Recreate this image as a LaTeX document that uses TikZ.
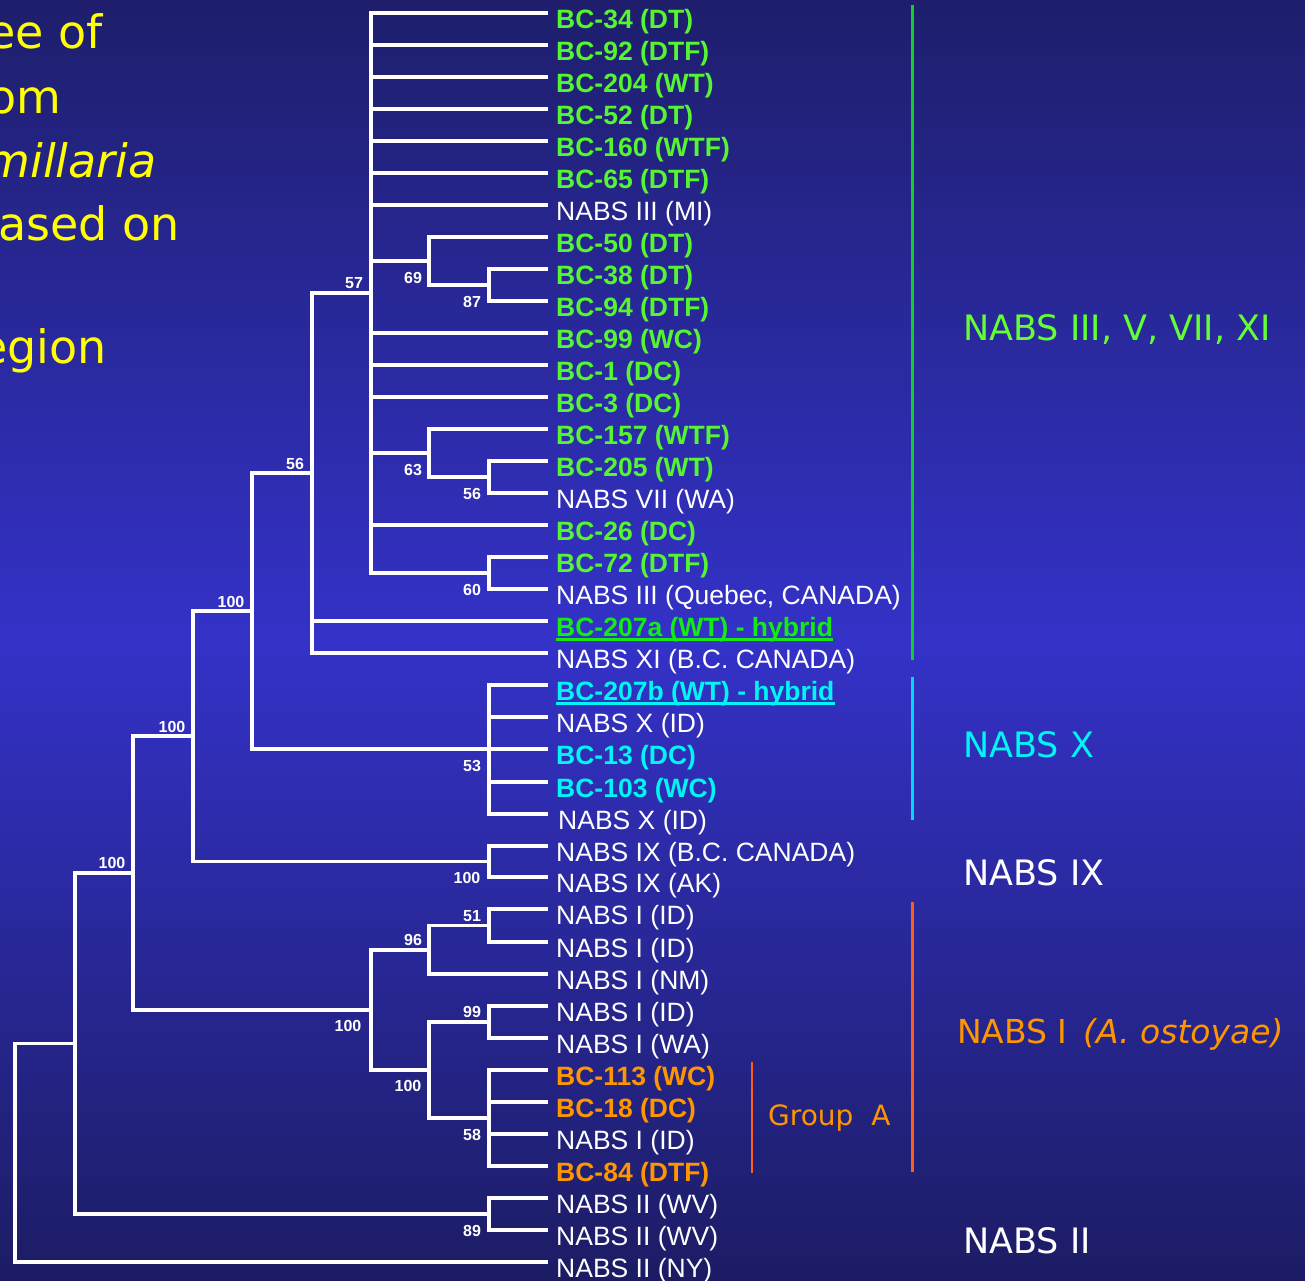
\documentclass[tikz,border=0pt]{standalone}
\usepackage{fontspec}
\setmainfont{Liberation Sans}
\newfontfamily\vfont{DejaVu Sans}
\definecolor{bgtop}{RGB}{30,30,108}
\definecolor{bgmid}{RGB}{52,50,200}
\definecolor{bgbot}{RGB}{28,28,100}
\definecolor{leafgreen}{RGB}{85,245,50}
\definecolor{hybgreen}{RGB}{20,235,20}
\definecolor{cyantext}{RGB}{0,245,245}
\definecolor{orangetext}{RGB}{255,150,0}
\definecolor{rightgreen}{RGB}{100,255,50}
\definecolor{greenbar}{RGB}{20,205,40}
\definecolor{cyanbar}{RGB}{0,215,250}
\definecolor{orangebar}{RGB}{255,95,20}
\definecolor{titleyellow}{RGB}{255,255,0}
\newcommand\leaf[4]{%
  \coordinate (#1) at (548,#2);
  \node[#3] (#1t) at (556,#2+15) {#4};}
\newcommand\edges[2]{\foreach \c in {#2} {\draw[tree] (#1) |- (\c);}}
\tikzset{
  tree/.style={draw=white, line width=3.4pt},
  leafw/.style={font=\fontsize{26.5}{30}\selectfont, text=white, inner sep=0pt, anchor=base west},
  leafg/.style={leafw, font=\fontsize{26.5}{30}\selectfont\bfseries, text=leafgreen},
  leafh/.style={leafw, font=\fontsize{26.5}{30}\selectfont\bfseries, text=hybgreen},
  leafc/.style={leafw, font=\fontsize{26.5}{30}\selectfont\bfseries, text=cyantext},
  leafo/.style={leafw, font=\fontsize{26.5}{30}\selectfont\bfseries, text=orangetext},
  boot/.style={font=\fontsize{16}{16}\selectfont\bfseries, text=white, inner sep=0pt},
  grp/.style={font=\vfont\fontsize{35}{40}\selectfont, inner sep=0pt, anchor=base west},
  ttl/.style={font=\vfont\fontsize{46}{50}\selectfont, text=titleyellow, inner sep=0pt, anchor=base east},
  bar/.style={line width=3pt}
}
\begin{document}
\begin{tikzpicture}[x=1pt,y=-1pt]
\useasboundingbox (0,0) rectangle (1305,1280);
\shade[top color=bgtop, bottom color=bgbot, middle color=bgmid] (0,0) rectangle (1305,1280);

% title fragment (cut at the left edge, as in the slide)
\begin{scope}
\clip (0,0) rectangle (1305,1280);
\node[ttl] (ttl1) at (103,48) {ee of};
\node[ttl] (ttl2) at (62,113) {om};
\node[ttl, font=\vfont\fontsize{46}{50}\selectfont\itshape] (ttl3) at (157,177) {millaria};
\node[ttl] (ttl4) at (180,240) {ased on};
\node[ttl] (ttl5) at (107,363) {egion};
\end{scope}

% leaves
\leaf{l1}{13}{leafg}{BC-34 (DT)}
\leaf{l2}{45}{leafg}{BC-92 (DTF)}
\leaf{l3}{77}{leafg}{BC-204 (WT)}
\leaf{l4}{109}{leafg}{BC-52 (DT)}
\leaf{l5}{141}{leafg}{BC-160 (WTF)}
\leaf{l6}{173}{leafg}{BC-65 (DTF)}
\leaf{l7}{205}{leafw}{NABS III (MI)}
\leaf{l8}{237}{leafg}{BC-50 (DT)}
\leaf{l9}{269}{leafg}{BC-38 (DT)}
\leaf{l10}{301}{leafg}{BC-94 (DTF)}
\leaf{l11}{333}{leafg}{BC-99 (WC)}
\leaf{l12}{365}{leafg}{BC-1 (DC)}
\leaf{l13}{397}{leafg}{BC-3 (DC)}
\leaf{l14}{429}{leafg}{BC-157 (WTF)}
\leaf{l15}{461}{leafg}{BC-205 (WT)}
\leaf{l16}{493}{leafw}{NABS VII (WA)}
\leaf{l17}{525}{leafg}{BC-26 (DC)}
\leaf{l18}{557}{leafg}{BC-72 (DTF)}
\leaf{l19}{589}{leafw}{NABS III (Quebec, CANADA)}
\leaf{l20}{621}{leafh}{BC-207a (WT) - hybrid}
\leaf{l21}{653}{leafw}{NABS XI (B.C. CANADA)}
\leaf{l22}{685}{leafc}{BC-207b (WT) - hybrid}
\leaf{l23}{717}{leafw}{NABS X (ID)}
\leaf{l24}{749}{leafc}{BC-13 (DC)}
\leaf{l25}{782}{leafc}{BC-103 (WC)}
\leaf{l26}{814}{leafw}{\hspace{2pt}NABS X (ID)}
\leaf{l27}{846}{leafw}{NABS IX (B.C. CANADA)}
\leaf{l28}{877}{leafw}{NABS IX (AK)}
\leaf{l29}{909}{leafw}{NABS I (ID)}
\leaf{l30}{942}{leafw}{NABS I (ID)}
\leaf{l31}{974}{leafw}{NABS I (NM)}
\leaf{l32}{1006}{leafw}{NABS I (ID)}
\leaf{l33}{1038}{leafw}{NABS I (WA)}
\leaf{l34}{1070}{leafo}{BC-113 (WC)}
\leaf{l35}{1102}{leafo}{BC-18 (DC)}
\leaf{l36}{1134}{leafw}{NABS I (ID)}
\leaf{l37}{1166}{leafo}{BC-84 (DTF)}
\leaf{l38}{1198}{leafw}{NABS II (WV)}
\leaf{l39}{1230}{leafw}{NABS II (WV)}
\leaf{l40}{1262}{leafw}{NABS II (NY)}

% underlines of the hybrids
\draw[hybgreen, line width=2.5pt] ([yshift=-3.5pt]l20t.base west) -- ([yshift=-3.5pt]l20t.base east);
\draw[cyantext, line width=2.5pt] ([yshift=-3.5pt]l22t.base west) -- ([yshift=-3.5pt]l22t.base east);

% internal nodes
\coordinate (n87) at (489,285);
\coordinate (n69) at (429,261);
\coordinate (n56b) at (489,477);
\coordinate (n63) at (429,453);
\coordinate (n60) at (489,573);
\coordinate (n57) at (371,293);
\coordinate (n56) at (312,473);
\coordinate (n53) at (489,749);
\coordinate (n100a) at (252,611);
\coordinate (n100ix) at (489,861.5);
\coordinate (n100b) at (193,736);
\coordinate (n51) at (489,925.5);
\coordinate (n96) at (429,950);
\coordinate (n99) at (489,1022);
\coordinate (n58) at (489,1118);
\coordinate (n100d) at (429,1070);
\coordinate (n100c) at (371,1010);
\coordinate (n100e) at (133,873);
\coordinate (n89) at (489,1214);
\coordinate (nA) at (75,1043.5);
\coordinate (root) at (15,1152.5);

% branches
\edges{n87}{l9,l10}
\edges{n69}{l8,n87}
\edges{n56b}{l15,l16}
\edges{n63}{l14,n56b}
\edges{n60}{l18,l19}
\edges{n57}{l1,l2,l3,l4,l5,l6,l7,n69,l11,l12,l13,n63,l17,n60}
\edges{n56}{n57,l20,l21}
\edges{n53}{l22,l23,l24,l25,l26}
\edges{n100a}{n56,n53}
\edges{n100ix}{l27,l28}
\edges{n100b}{n100a,n100ix}
\edges{n51}{l29,l30}
\edges{n96}{n51,l31}
\edges{n99}{l32,l33}
\edges{n58}{l34,l35,l36,l37}
\edges{n100d}{n99,n58}
\edges{n100c}{n96,n100d}
\edges{n100e}{n100b,n100c}
\edges{n89}{l38,l39}
\edges{nA}{n100e,n89}
\edges{root}{nA,l40}

% bootstrap values
\node[boot] (b57) at (354,283) {57};
\node[boot] (b69) at (413,278) {69};
\node[boot] (b87) at (472,302) {87};
\node[boot] (b56) at (295,464) {56};
\node[boot] (b63) at (413,470) {63};
\node[boot] (b56b) at (472,494) {56};
\node[boot] (b60) at (472,590) {60};
\node[boot] (b100a) at (231,602) {100};
\node[boot] (b100b) at (172,727) {100};
\node[boot] (b53) at (472,766) {53};
\node[boot] (b100e) at (112,863) {100};
\node[boot] (b100ix) at (467,878) {100};
\node[boot] (b51) at (472,916) {51};
\node[boot] (b96) at (413,940) {96};
\node[boot] (b99) at (472,1012) {99};
\node[boot] (b100c) at (348,1026) {100};
\node[boot] (b100d) at (408,1086) {100};
\node[boot] (b58) at (472,1135) {58};
\node[boot] (b89) at (472,1231) {89};

% group bars
\draw[bar, greenbar] (912,5) -- (912,660);
\draw[bar, cyanbar] (912,677) -- (912,820);
\draw[bar, orangebar] (912,902) -- (912,1172);
\draw[line width=2pt, orangebar] (752,1062) -- (752,1173);

% group labels
\node[grp, text=rightgreen] (g1) at (963,340) {NABS III, V, VII, XI};
\node[grp, text=cyantext] (g2) at (963,757) {NABS X};
\node[grp, text=white] (g3) at (963,885) {NABS IX};
\node[grp, font=\vfont\fontsize{33}{38}\selectfont, text=orangetext] (g4) at (957,1043) {NABS I\hspace{0.15em} {\itshape (A. ostoyae)}};
\node[grp, text=white] (g5) at (963,1253) {NABS II};
\node[grp, font=\vfont\fontsize{28}{32}\selectfont, text=orangetext] (g6) at (768,1125) {Group\ \ A};
\end{tikzpicture}
\end{document}
